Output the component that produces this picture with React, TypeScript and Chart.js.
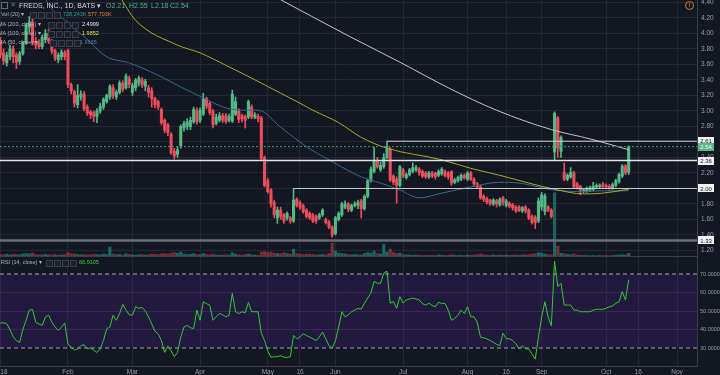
import React, { useEffect, useRef } from "react";
import { Chart, registerables } from "chart.js";

Chart.register(...registerables);

// ---------- DATA ----------
// one candle per trading day, index 0 = 2 Jan 2018
const opens = [
  3.91,3.75,3.62,3.70,3.80,3.72,3.64,3.74,3.88,4.08,4.15,3.90,3.88,3.83,3.92,4.00,3.90,3.78,3.66,3.70,3.75,3.78,
  3.34,3.25,3.08,3.18,3.22,3.05,2.99,2.98,2.93,3.00,3.05,3.12,3.18,3.30,3.18,3.24,3.36,3.30,3.42,
  3.24,3.30,3.36,3.40,3.32,3.30,3.26,3.16,3.12,3.02,2.88,2.82,2.70,2.48,2.44,2.55,2.78,2.80,2.80,2.86,
  3.00,2.88,2.96,3.16,3.10,3.00,2.84,2.88,2.94,2.94,2.88,2.87,2.96,3.00,2.94,2.93,2.92,3.05,2.92,2.93,2.91,
  2.40,2.10,1.98,1.82,1.62,1.72,1.66,1.62,1.62,1.58,1.86,1.82,1.78,1.72,1.68,1.66,1.64,1.62,1.66,1.60,1.57,1.50,
  1.42,1.60,1.66,1.76,1.80,1.72,1.78,1.78,1.84,1.74,1.90,2.10,2.22,2.36,2.24,2.28,2.40,2.51,2.16,2.12,2.04,
  2.24,2.14,2.18,2.22,2.24,2.25,2.22,2.20,2.15,2.20,2.20,2.17,2.19,2.22,2.20,2.22,2.08,2.10,2.12,2.17,2.12,
  2.20,2.12,2.06,2.02,1.90,1.87,1.85,1.80,1.84,1.79,1.88,1.78,1.81,1.79,1.76,1.76,1.71,1.76,1.72,1.64,1.63,1.58,
  1.76,1.70,1.76,1.72,2.47,2.91,2.48,2.21,2.12,2.15,2.20,2.06,2.03,1.96,1.97,1.98,1.99,2.02,2.02,
  2.05,2.04,2.03,2.01,2.04,2.09,2.16,2.29,2.21,
];
const highs = [
  3.95,3.80,3.76,3.85,3.84,3.75,3.77,3.90,4.13,4.22,4.20,3.95,3.92,3.98,4.05,4.05,3.92,3.80,3.75,3.79,3.78,3.80,
  3.36,3.27,3.34,3.26,3.25,3.08,3.01,3.00,3.03,3.10,3.17,3.22,3.34,3.34,3.27,3.39,3.39,3.48,3.45,
  3.36,3.42,3.45,3.43,3.41,3.33,3.30,3.18,3.14,3.04,2.90,2.84,2.72,2.52,2.54,2.82,2.87,2.90,2.92,3.05,
  3.04,3.04,3.23,3.18,3.12,3.02,2.96,2.98,2.97,2.97,2.96,3.27,3.18,3.03,2.96,2.95,3.14,3.08,2.98,2.96,2.93,
  2.42,2.13,2.00,1.85,1.76,1.76,1.68,1.70,1.64,2.00,1.88,1.84,1.80,1.74,1.70,1.68,1.66,1.68,1.74,1.62,1.59,1.52,
  1.64,1.70,1.82,1.84,1.82,1.80,1.83,1.85,1.86,1.92,2.12,2.28,2.53,2.40,2.34,2.45,2.61,2.53,2.18,2.15,2.30,
  2.26,2.20,2.26,2.33,2.30,2.27,2.24,2.22,2.22,2.22,2.21,2.24,2.27,2.24,2.22,2.23,2.13,2.16,2.19,2.19,2.22,
  2.22,2.14,2.08,2.04,1.92,1.89,1.86,1.87,1.86,1.88,1.90,1.86,1.83,1.81,1.78,1.78,1.77,1.78,1.74,1.66,1.65,1.88,
  1.95,1.93,1.78,1.74,2.99,2.93,2.68,2.33,2.19,2.27,2.22,2.08,2.04,2.00,2.02,2.03,2.08,2.06,2.06,
  2.08,2.06,2.05,2.07,2.12,2.20,2.31,2.31,2.55,
];
const lows = [
  3.68,3.60,3.58,3.66,3.62,3.55,3.60,3.72,3.86,4.02,3.85,3.80,3.80,3.80,3.88,3.87,3.74,3.65,3.62,3.66,3.66,3.30,
  3.22,3.05,3.04,3.14,3.00,2.94,2.90,2.86,2.85,2.97,3.02,3.10,3.15,3.16,3.15,3.22,3.25,3.28,3.30,
  3.20,3.26,3.32,3.30,3.26,3.18,3.05,3.04,3.02,2.82,2.72,2.68,2.44,2.38,2.40,2.52,2.74,2.76,2.76,2.84,
  2.83,2.85,2.94,3.03,2.95,2.78,2.82,2.86,2.85,2.84,2.86,2.85,2.94,2.85,2.86,2.78,2.90,2.90,2.90,2.86,2.37,
  2.02,1.94,1.76,1.62,1.55,1.60,1.55,1.59,1.55,1.56,1.76,1.73,1.68,1.62,1.60,1.56,1.55,1.60,1.64,1.54,1.48,1.37,
  1.40,1.58,1.64,1.74,1.70,1.70,1.76,1.74,1.62,1.72,1.88,2.08,2.20,2.26,2.22,2.26,2.38,2.09,2.05,1.81,2.02,
  2.14,2.12,2.16,2.20,2.22,2.17,2.14,2.13,2.13,2.14,2.12,2.15,2.17,2.15,2.12,2.04,2.06,2.08,2.10,2.12,2.10,
  2.10,2.04,2.00,1.86,1.83,1.80,1.78,1.78,1.76,1.77,1.78,1.76,1.75,1.72,1.69,1.70,1.69,1.68,1.60,1.54,1.48,1.56,
  1.72,1.66,1.70,1.62,2.36,2.40,2.40,2.10,2.10,2.13,2.00,1.99,1.92,1.94,1.95,1.96,1.97,2.00,2.00,
  2.01,2.00,1.99,1.99,2.02,2.07,2.14,2.18,2.18,
];
const closes = [
  3.72,3.65,3.72,3.80,3.70,3.63,3.74,3.88,4.10,4.15,3.88,3.85,3.83,3.95,4.00,3.90,3.77,3.68,3.72,3.76,3.70,3.34,
  3.26,3.10,3.20,3.22,3.03,2.97,2.95,2.93,3.00,3.06,3.15,3.20,3.32,3.20,3.24,3.36,3.28,3.45,3.34,
  3.33,3.40,3.42,3.34,3.38,3.24,3.16,3.08,3.05,2.85,2.75,2.72,2.46,2.42,2.50,2.80,2.84,2.86,2.88,3.02,
  2.86,3.01,3.16,3.06,2.98,2.82,2.92,2.94,2.88,2.86,2.93,3.22,3.12,2.89,2.90,2.88,3.12,2.92,2.95,2.90,2.39,
  2.04,1.96,1.80,1.66,1.72,1.64,1.58,1.68,1.58,1.85,1.78,1.76,1.70,1.64,1.62,1.58,1.58,1.66,1.72,1.56,1.50,1.40,
  1.62,1.68,1.80,1.80,1.73,1.78,1.80,1.82,1.74,1.90,2.10,2.25,2.35,2.28,2.30,2.40,2.52,2.11,2.08,2.04,2.28,
  2.16,2.18,2.24,2.27,2.27,2.20,2.16,2.15,2.20,2.16,2.15,2.22,2.25,2.17,2.15,2.07,2.11,2.14,2.17,2.14,2.20,
  2.12,2.06,2.02,1.88,1.86,1.82,1.80,1.85,1.80,1.86,1.82,1.84,1.77,1.75,1.71,1.72,1.75,1.71,1.62,1.56,1.56,1.84,
  1.92,1.90,1.72,1.64,2.97,2.52,2.66,2.12,2.17,2.21,2.02,2.01,1.98,1.98,2.00,2.01,2.03,2.04,2.04,
  2.03,2.02,2.01,2.05,2.10,2.18,2.29,2.20,2.54,
];
// volume in thousands
const volumes = [
  500,450,600,400,550,500,450,600,700,650,800,500,450,400,500,450,400,550,350,400,500,900,
  700,650,500,450,500,400,450,550,500,450,600,500,2000,600,450,500,400,650,500,
  400,350,450,500,400,450,600,550,500,650,700,600,800,900,750,1000,600,500,550,700,
  500,450,700,500,450,600,400,350,400,450,400,900,600,450,400,500,600,450,400,350,1000,
  1100,900,1000,800,700,650,900,700,600,1600,700,600,500,550,600,500,450,400,500,450,700,2800,
  1200,800,700,600,500,450,500,400,450,700,900,800,1200,700,600,2600,1000,1600,900,700,800,
  500,450,400,350,400,350,300,350,300,350,300,400,350,300,350,500,350,300,350,300,400,
  350,400,450,600,450,400,350,400,350,400,350,400,350,400,450,350,400,450,500,600,700,900,
  800,600,500,450,13000,2200,800,700,500,450,600,400,350,300,300,250,300,250,300,
  250,300,250,300,350,400,450,400,728,
];
const rsiValues = [
  43.5,43.6,43.2,40,36,34,33,40,45,50.5,50.8,44,43,42.2,46.8,47.7,44,41.3,39.5,41.3,43.5,32.2,
  30.4,28.9,29.5,31.3,31.8,29.5,30,28.8,27.6,29.5,34,40.4,41.3,47.7,45,48.6,53.6,50.5,48,
  47.7,52.3,51.4,52,50,46.8,43,39,37.7,34,27.6,31,28.5,25.3,27.6,35.9,41.3,42.2,41,40.4,
  50.5,45,55,54,53.1,45,47,48.6,48,46.8,47.7,59.6,49.6,48.6,49.6,49,54.6,49.6,49.6,49.6,38,
  34,28.5,24.9,25.3,25.3,25.8,25,24.9,25.3,36.8,35,36,37.7,36.8,35.9,35,34,36,38.6,35,31.3,30,
  34,41.3,49.6,46.8,48,49.6,50.5,51.4,51,54.2,57,59.6,66,65,65,70.5,71.5,54.2,55.1,51.4,57.8,
  54.2,56,56.5,56.9,56.5,56,54,53.2,54.2,53,52.3,54.7,54.1,54.1,50.5,45,46,47.7,50.5,48.6,52.3,
  46.8,46.8,44,35.9,35.5,35,34,33.1,32,31.3,38,35,35,34,32.2,29.5,31.3,29.5,29.5,26.7,24,35.9,
  46.8,55,46.8,42,76.9,63.2,65,53.2,53.2,53.2,50.5,50.5,49.6,49.6,49.6,49.6,50.5,50.9,50.9,
  50.9,51.5,52.3,52.8,54.1,55,60.5,55.9,66.91,
];
// moving averages, read at a few candles
const ma200Idx = [85, 108, 124, 139, 154, 171, 183, 195];
const ma200Val = [4.48, 3.97, 3.63, 3.30, 3.01, 2.76, 2.64, 2.50];
const ma100Idx = [37, 42, 55, 62, 70, 81, 87, 93, 97, 105, 112, 120, 137, 146, 155, 164, 172, 181, 187, 195];
const ma100Val = [4.48, 4.17, 3.85, 3.75, 3.59, 3.36, 3.23, 3.10, 3.01, 2.85, 2.66, 2.52, 2.37, 2.26, 2.17, 2.07, 1.99, 1.93, 1.94, 1.99];
const ma50Idx = [13, 15, 20, 26, 33, 40, 49, 56, 63, 70, 76, 80, 87, 95, 102, 112, 118, 124, 130, 137, 146, 155, 161, 168, 172, 180, 188, 195];
const ma50Val = [4.55, 4.37, 4.17, 3.96, 3.70, 3.62, 3.46, 3.31, 3.17, 3.04, 3.01, 3.01, 2.79, 2.54, 2.37, 2.15, 2.07, 1.98, 1.88, 1.94, 2.02, 2.08, 2.07, 2.01, 1.98, 1.96, 1.97, 1.97];
// horizontal drawn levels
const levelValues = [2.61, 2.36, 2.0, 1.33];
const levelStarts = [120, -1, 91, -1];
const lastPrice = 2.54;

const priceTicks = [1.2, 1.4, 1.6, 1.8, 2.0, 2.2, 2.4, 2.6, 2.8, 3.0, 3.2, 3.4, 3.6, 3.8, 4.0, 4.2, 4.4];
const rsiTicks = [30, 40, 50, 60, 70];
const dateTickIdx = [0, 21, 41, 62, 83, 93, 104, 125, 145, 157, 168, 188, 198, 210];
const dateTickLabels = ["2018", "Feb", "Mar", "Apr", "May", "16", "Jun", "Jul", "Aug", "16", "Sep", "Oct", "16", "Nov"];

// ---------- STYLE ----------
const X_MIN = -0.093;
const X_MAX = 216.2;
const PRICE_MIN = 1.116;
const PRICE_MAX = 4.432;
const RSI_MIN = 20.27;
const RSI_MAX = 79.19;
const VOL_MAX = 52000;

const BG = "#131722";
const GRID = "#232731";
const BORDER = "#3a3e48";
const AXIS_TEXT = "#9a9da6";
const UP = "#53b987";
const DOWN = "#eb4d5c";
const VOL_UP = "rgba(38,166,154,0.55)";
const VOL_DOWN = "rgba(235,77,92,0.45)";
const FONT = "'Liberation Sans', Arial, sans-serif";

Chart.defaults.font.family = FONT;

function xAxis(showLabels: boolean): any {
  return {
    type: "linear",
    min: X_MIN,
    max: X_MAX,
    offset: false,
    afterBuildTicks: (s: any) => {
      s.ticks = dateTickIdx.map((v) => ({ value: v }));
    },
    afterFit: (s: any) => {
      s.height = showLabels ? 9 : 0;
      s.paddingLeft = 0;
      s.paddingRight = 0;
    },
    grid: { color: GRID, drawTicks: false, offset: false, lineWidth: 1 },
    border: { display: showLabels, color: BORDER },
    ticks: {
      display: showLabels,
      autoSkip: false,
      maxRotation: 0,
      padding: 2,
      color: AXIS_TEXT,
      font: { size: 6.5 },
      callback: (_v: any, i: number) => dateTickLabels[i] ?? "",
    },
  };
}

function hLine(value: number, start: number, color: string, width: number, dash: number[] = []): any {
  return {
    type: "line",
    data: [
      { x: start < 0 ? X_MIN : start, y: value },
      { x: X_MAX, y: value },
    ],
    borderColor: color,
    borderWidth: width,
    borderDash: dash,
    pointRadius: 0,
    yAxisID: "y",
    order: 1,
  };
}

function maLine(idx: number[], vals: number[], color: string): any {
  return {
    type: "line",
    data: idx.map((x, k) => ({ x, y: vals[k] })),
    borderColor: color,
    borderWidth: 1,
    pointRadius: 0,
    cubicInterpolationMode: "monotone",
    yAxisID: "y",
    order: 2,
  };
}

const boxPlugin = {
  id: "priceBoxes",
  afterDraw(chart: any) {
    const ys = chart.scales.y;
    const ctx = chart.ctx;
    const left = chart.chartArea.right + 1;
    ctx.save();
    ctx.font = `6px ${FONT}`;
    ctx.textAlign = "center";
    ctx.textBaseline = "middle";
    const draw = (v: number, bg: string, fg: string) => {
      const y = ys.getPixelForValue(v);
      ctx.fillStyle = bg;
      ctx.fillRect(left, Math.round(y - 4), 16, 8);
      ctx.fillStyle = fg;
      ctx.fillText(v.toFixed(2), left + 8, y + 0.5);
    };
    levelValues.forEach((v) => draw(v, "#f0f0f0", "#131722"));
    draw(lastPrice, UP, "#ffffff");
    ctx.restore();
  },
};

const Txt = ({ x, y, size, color, children }: any) => (
  <div
    style={{
      position: "absolute",
      left: x,
      top: y,
      fontSize: size,
      lineHeight: 1,
      color,
      whiteSpace: "nowrap",
      fontFamily: FONT,
    }}
  >
    {children}
  </div>
);

const Boxes = ({ x, y }: any) => (
  <>
    {[0, 1, 2, 3].map((k) => (
      <div
        key={k}
        style={{
          position: "absolute",
          left: x + k * 8,
          top: y,
          width: 5,
          height: 5,
          border: "1px solid #3b3f4b",
          background: "#1c202a",
        }}
      />
    ))}
  </>
);

export default function App() {
  const priceRef = useRef<HTMLCanvasElement>(null);
  const rsiRef = useRef<HTMLCanvasElement>(null);

  useEffect(() => {
    document.body.style.margin = "0";
    document.body.style.background = BG;
    const idx = closes.map((_, i) => i);
    const colors = idx.map((i) => (closes[i] >= opens[i] ? UP : DOWN));
    const volColors = idx.map((i) => (closes[i] >= opens[i] ? VOL_UP : VOL_DOWN));

    const priceChart = new Chart(priceRef.current as HTMLCanvasElement, {
      type: "bar",
      data: {
        datasets: [
          {
            type: "bar",
            data: idx.map((i) => ({ x: i, y: [opens[i], closes[i]] })) as any,
            backgroundColor: colors,
            barThickness: 2.4,
            minBarLength: 1,
            grouped: false,
            yAxisID: "y",
            order: 3,
          },
          {
            type: "bar",
            data: idx.map((i) => ({ x: i, y: [lows[i], highs[i]] })) as any,
            backgroundColor: colors,
            barThickness: 1,
            grouped: false,
            yAxisID: "y",
            order: 4,
          },
          {
            type: "bar",
            data: idx.map((i) => ({ x: i, y: volumes[i] })) as any,
            backgroundColor: volColors,
            barThickness: 2.4,
            grouped: false,
            yAxisID: "yVol",
            order: 6,
          },
          maLine(ma200Idx, ma200Val, "#c3c6ce"),
          maLine(ma100Idx, ma100Val, "#aaaa2c"),
          maLine(ma50Idx, ma50Val, "#346a90"),
          hLine(levelValues[0], levelStarts[0], "#d6d6d6", 1),
          hLine(levelValues[1], levelStarts[1], "#e4e4e4", 1.5),
          hLine(levelValues[2], levelStarts[2], "#c8c8c8", 1),
          hLine(levelValues[3], levelStarts[3], "#6b6e77", 2.5),
          hLine(lastPrice, -1, "#3f9c6f", 1, [2, 2]),
        ] as any,
      },
      options: {
        responsive: false,
        animation: false,
        devicePixelRatio: 1,
        layout: { padding: 0, autoPadding: false } as any,
        plugins: { legend: { display: false }, tooltip: { enabled: false } },
        scales: {
          x: xAxis(false),
          y: {
            type: "linear",
            position: "right",
            min: PRICE_MIN,
            max: PRICE_MAX,
            afterBuildTicks: (s: any) => {
              s.ticks = priceTicks.map((v) => ({ value: v }));
            },
            afterFit: (s: any) => {
              s.width = 23;
              s.paddingTop = 0;
              s.paddingBottom = 0;
            },
            grid: { color: GRID, drawTicks: false },
            border: { display: true, color: BORDER },
            ticks: {
              padding: 4,
              color: AXIS_TEXT,
              font: { size: 6.5 },
              callback: (v: any) => Number(v).toFixed(2),
            },
          },
          yVol: {
            type: "linear",
            display: false,
            min: 0,
            max: VOL_MAX,
          },
        } as any,
      },
      plugins: [boxPlugin],
    });

    const rsiChart = new Chart(rsiRef.current as HTMLCanvasElement, {
      type: "line",
      data: {
        datasets: [
          {
            data: idx.map((i) => ({ x: i, y: rsiValues[i] })),
            borderColor: "#35c835",
            borderWidth: 1,
            pointRadius: 0,
            tension: 0,
            order: 1,
          },
          {
            data: [
              { x: X_MIN, y: 70 },
              { x: X_MAX, y: 70 },
            ],
            borderColor: "#a9acb4",
            borderWidth: 1,
            borderDash: [4, 3],
            pointRadius: 0,
            fill: "+1",
            backgroundColor: "rgba(140,40,255,0.13)",
            order: 3,
          },
          {
            data: [
              { x: X_MIN, y: 30 },
              { x: X_MAX, y: 30 },
            ],
            borderColor: "#a9acb4",
            borderWidth: 1,
            borderDash: [4, 3],
            pointRadius: 0,
            order: 3,
          },
        ] as any,
      },
      options: {
        responsive: false,
        animation: false,
        devicePixelRatio: 1,
        layout: { padding: 0, autoPadding: false } as any,
        plugins: { legend: { display: false }, tooltip: { enabled: false } },
        scales: {
          x: xAxis(true),
          y: {
            type: "linear",
            position: "right",
            min: RSI_MIN,
            max: RSI_MAX,
            afterBuildTicks: (s: any) => {
              s.ticks = rsiTicks.map((v) => ({ value: v }));
            },
            afterFit: (s: any) => {
              s.width = 23;
              s.paddingTop = 0;
              s.paddingBottom = 0;
            },
            grid: {
              drawTicks: false,
              color: (c: any) => (c.tick && (c.tick.value === 70 || c.tick.value === 30) ? "rgba(0,0,0,0)" : "#2e2748"),
            },
            border: { display: true, color: BORDER },
            ticks: {
              padding: 3,
              color: AXIS_TEXT,
              font: { size: 5.5 },
              callback: (v: any) => Number(v).toFixed(4),
            },
          },
        } as any,
      },
    });

    return () => {
      priceChart.destroy();
      rsiChart.destroy();
    };
  }, []);

  return (
    <div style={{ position: "fixed", left: 0, top: 0, width: 720, height: 375, background: BG, overflow: "hidden" }}>
      <canvas ref={priceRef} width={720} height={257} style={{ position: "absolute", left: 0, top: 0, width: 720, height: 257 }} />
      <canvas ref={rsiRef} width={720} height={118} style={{ position: "absolute", left: 0, top: 257, width: 720, height: 118 }} />
      <div style={{ position: "absolute", left: 0, top: 256, width: 697, height: 1, background: BORDER }} />

      {/* header legend */}
      <div style={{ position: "absolute", left: 1, top: 2, width: 5, height: 5, border: "1px solid #6b6f7a" }} />
      <Txt x={11} y={1} size={7} color="#8c8f98">≡</Txt>
      <Txt x={19} y={1.5} size={7} color="#d1d4dc">FREDS, INC., 1D, BATS ▾</Txt>
      <Txt x={106} y={1.5} size={7} color={UP}>O2.21</Txt>
      <Txt x={129} y={1.5} size={7} color={UP}>H2.55</Txt>
      <Txt x={151} y={1.5} size={7} color={UP}>L2.18</Txt>
      <Txt x={170} y={1.5} size={7} color={UP}>C2.54</Txt>

      <Txt x={1} y={12} size={5.5} color="#b2b5be">Vol (20) ▾</Txt>
      <Boxes x={30} y={12} />
      <Txt x={63} y={12} size={5.5} color="#26a69a">728.243K</Txt>
      <Txt x={88} y={12} size={5.5} color="#e8873a">577.703K</Txt>

      <Txt x={-2} y={22} size={5.5} color="#b2b5be">MA (200, close) ▾</Txt>
      <Boxes x={48} y={22} />
      <Txt x={82} y={22} size={5.5} color="#e6e6e6">2.4999</Txt>

      <Txt x={-2} y={31} size={5.5} color="#b2b5be">MA (100, close) ▾</Txt>
      <Boxes x={48} y={31} />
      <Txt x={82} y={31} size={5.5} color="#e5e532">1.9852</Txt>

      <Txt x={-2} y={40} size={5.5} color="#b2b5be">MA (50, close) ▾</Txt>
      <Boxes x={50} y={40} />
      <Txt x={80} y={40} size={5.5} color="#4f86b0">1.9665</Txt>

      <Txt x={1} y={260} size={5.5} color="#b2b5be">RSI (14, close) ▾</Txt>
      <Boxes x={46} y={260} />
      <Txt x={79} y={260} size={5.5} color="#3fd43f">66.9105</Txt>

      {/* alert icon */}
      <div
        style={{
          position: "absolute",
          left: 685,
          top: 1,
          width: 7,
          height: 7,
          borderRadius: "50%",
          border: "1px solid #d9792b",
          color: "#d9792b",
          fontSize: 6,
          lineHeight: "7px",
          textAlign: "center",
          fontFamily: FONT,
          fontWeight: "bold",
        }}
      >
        !
      </div>
    </div>
  );
}
